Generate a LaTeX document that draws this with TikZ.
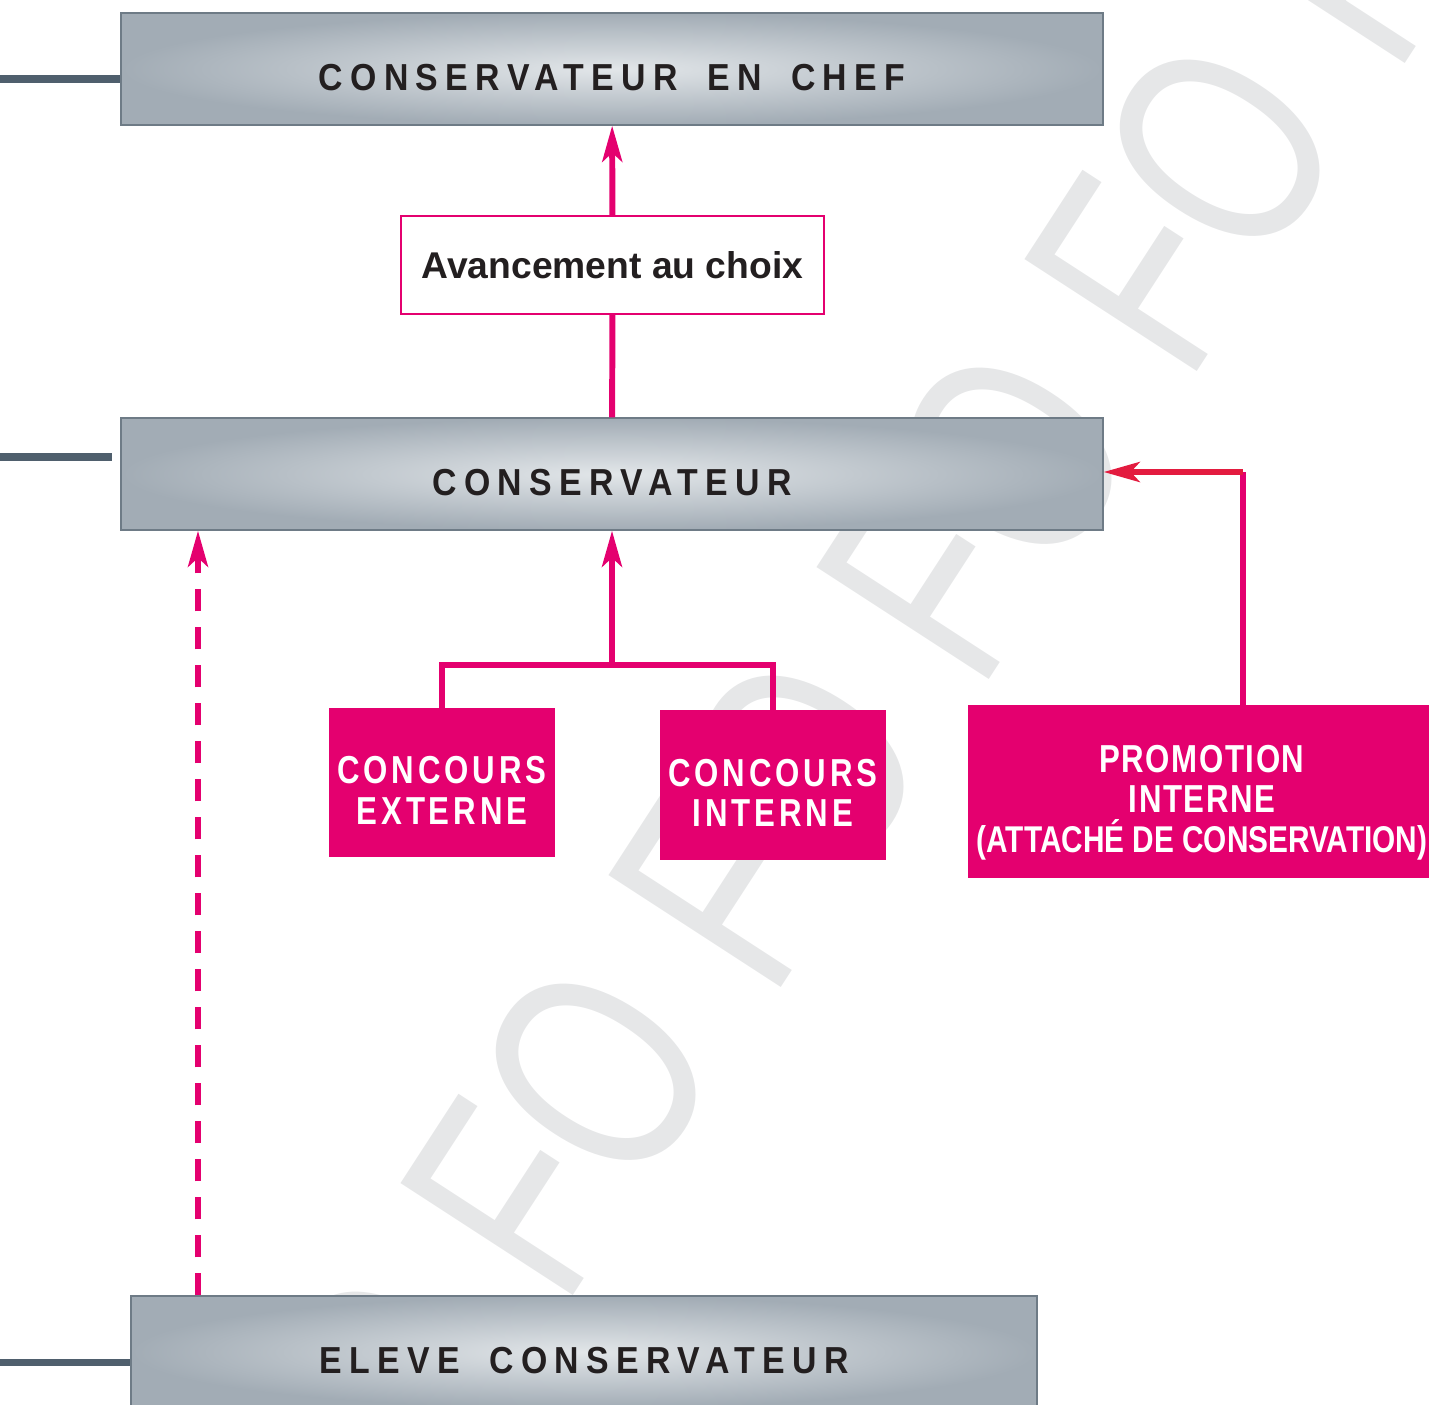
\documentclass[tikz,border=0pt]{standalone}
\usepackage{fontspec}
\setmainfont{Liberation Sans}
\newfontfamily\wmfont[FakeStretch=0.73]{Liberation Sans}
\newfontfamily\gradefont[FakeStretch=0.9,LetterSpace=19.6,WordSpace=1.75]{Liberation Sans}
\newfontfamily\pinkfont[FakeStretch=0.8,LetterSpace=10]{Liberation Sans}
\newfontfamily\promofont[FakeStretch=0.8,LetterSpace=4]{Liberation Sans}
\newfontfamily\attfont[FakeStretch=0.8]{Liberation Sans}
\usepackage{tikz}
\usetikzlibrary{arrows.meta}

\definecolor{fomag}{HTML}{E4006F}
\definecolor{fored}{HTML}{E31B3F}
\definecolor{boxlight}{HTML}{E2E6E9}
\definecolor{boxdark}{HTML}{A2ACB5}
\definecolor{boxedge}{HTML}{6E7B86}
\definecolor{sideline}{HTML}{4F5F6D}
\definecolor{wmgray}{HTML}{E6E7E8}
\definecolor{ink}{HTML}{231F20}

\newcommand{\lowtop}[1]{\rule{0pt}{#1}}

\tikzset{
  grade/.style={draw=boxedge, line width=0.85pt, inner color=boxlight, outer color=boxdark,
    minimum height=2.24cm, text height=0.86cm, text depth=0pt, inner sep=0pt, text=ink,
    font=\gradefont\bfseries\fontsize{21.4}{24}\selectfont},
  choix/.style={draw=fomag, line width=0.8pt, fill=white, minimum width=8.46cm, minimum height=1.96cm,
    text=ink, font=\bfseries\fontsize{21.2}{24}\selectfont},
  pinkbox/.style={fill=fomag, text=white, align=center, inner sep=0pt,
    font=\pinkfont\bfseries\fontsize{22.2}{22.8}\selectfont},
  link/.style={draw=fomag, line width=3.4pt},
  dashlink/.style={link, dash pattern=on 0.44cm off 0.32cm},
  side/.style={draw=sideline, line width=4pt},
  wmark/.style={text=wmgray, font=\wmfont\fontsize{170}{170}\selectfont, rotate=57, inner sep=0pt}
}

\begin{document}
\begin{tikzpicture}[x=0.02cm, y=-0.02cm, >={Stealth[length=0.72cm, width=0.4cm, inset=0.18cm]}]
  \useasboundingbox (0,0) rectangle (1429,1404);

  \foreach \k in {0,...,5}
    \node[wmark] (fo\k) at ({560+208*(\k-1)},{1128-308*(\k-1)}) {FO};

  \node[grade, minimum width=19.64cm] (chef) at (612,69) {CONSERVATEUR EN CHEF};
  \node[choix] (avance) at (612.5,265) {Avancement au choix};
  \node[grade, minimum width=19.64cm] (cons) at (612,474) {CONSERVATEUR};
  \node[pinkbox, minimum width=4.52cm, minimum height=2.98cm] (ext) at (442,782.5)
    {\lowtop{0.86cm}CONCOURS\\EXTERNE};
  \node[pinkbox, minimum width=4.52cm, minimum height=3cm] (int) at (773,785)
    {\lowtop{0.86cm}CONCOURS\\INTERNE};
  \node[pinkbox, minimum width=9.36cm, minimum height=3.46cm,
    font=\promofont\bfseries\fontsize{22.2}{22.8}\selectfont] (promo) at (1202,791.5)
    {\lowtop{0.98cm}PROMOTION\\INTERNE\\{\attfont\bfseries\fontsize{21.2}{22.8}\selectfont (ATTACHÉ DE CONSERVATION)}};
  \node[grade, minimum width=18.12cm] (eleve) at (584,1352) {ELEVE CONSERVATEUR};

  \coordinate (join) at (612,665);
  \coordinate (bend) at (1243,472);
  \coordinate (dashx) at (198,0);
  \coordinate (lchef) at (0,79);
  \coordinate (lcons) at (0,457);
  \coordinate (leleve) at (0,1362);

  \draw[side] (lchef) -- (lchef -| chef.west);
  \draw[side, shorten >=0.16cm] (lcons) -- (lcons -| cons.west);
  \draw[side] (leleve) -- (leleve -| eleve.west);

  \draw[link, ->] (avance) -- (chef);
  \draw[link] (cons) -- (avance);
  \draw[link] (ext.north) |- (join) -| (int.north);
  \draw[link, ->] (join) -- (cons.south);
  \draw[link] (bend |- promo.north) -- (bend);
  \draw[link, draw=fored, ->] (bend) -- (bend -| cons.east);
  \draw[dashlink, ->] (dashx |- eleve.north) -- (dashx |- cons.south);
\end{tikzpicture}
\end{document}
